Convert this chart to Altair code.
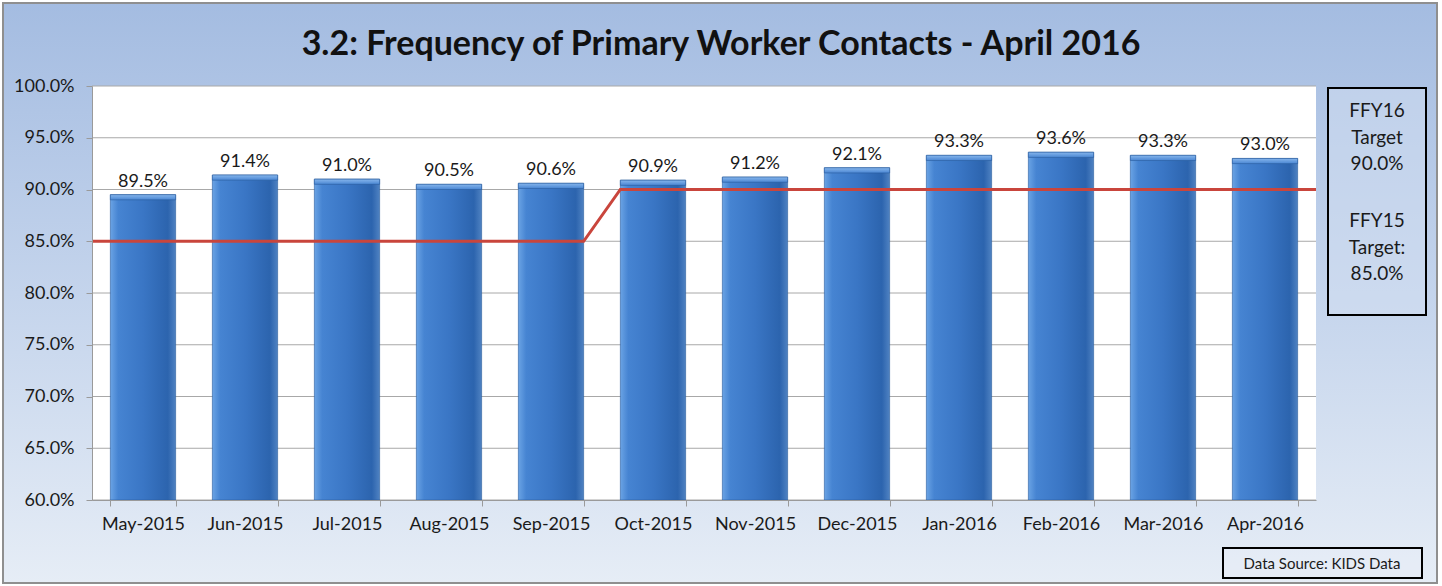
import altair as alt
import pandas as pd

months = ["May-2015", "Jun-2015", "Jul-2015", "Aug-2015", "Sep-2015", "Oct-2015",
          "Nov-2015", "Dec-2015", "Jan-2016", "Feb-2016", "Mar-2016", "Apr-2016"]
values = [89.5, 91.4, 91.0, 90.5, 90.6, 90.9, 91.2, 92.1, 93.3, 93.6, 93.3, 93.0]
targets = [85, 85, 85, 85, 85, 90, 90, 90, 90, 90, 90, 90]
y_ticks = [60, 65, 70, 75, 80, 85, 90, 95, 100]
title_text = "3.2: Frequency of Primary Worker Contacts - April 2016"
legend_fy16 = "FFY16\nTarget\n90.0%"
legend_fy15 = "FFY15\nTarget:\n85.0%"
source_text = "Data Source: KIDS Data"

W, H = 1224, 414
FONT = "Lato"
TXT = "#1a1a1a"
HALF = 0.32

df = pd.DataFrame({"month": months, "value": values,
                   "label": [f"{v:.1f}%" for v in values]})

n = len(months)
rows = []
for i, t in enumerate(targets):
    left = -0.5 if i == 0 else i - HALF
    right = n - 0.5 if i == n - 1 else i + HALF
    rows.append({"pos": left, "target": t})
    rows.append({"pos": right, "target": t})
line_df = pd.DataFrame(rows)

one = alt.Data(values=[{"k": 1}])

bg_grad = {"gradient": "linear", "x1": 0, "y1": 0, "x2": 0, "y2": 1,
           "stops": [{"offset": 0, "color": "#a4bce1"},
                     {"offset": 0.5, "color": "#c4d4ec"},
                     {"offset": 1, "color": "#e6edf6"}]}
bar_grad = {"gradient": "linear", "x1": 0, "y1": 0, "x2": 1, "y2": 0,
            "stops": [{"offset": 0, "color": "#6aa3e4"},
                      {"offset": 0.12, "color": "#4684d2"},
                      {"offset": 0.5, "color": "#3a76c5"},
                      {"offset": 0.88, "color": "#2c64ae"},
                      {"offset": 1, "color": "#4f82c2"}]}
cap_grad = {"gradient": "linear", "x1": 0, "y1": 0, "x2": 0, "y2": 1,
            "stops": [{"offset": 0, "color": "#86b6ec"},
                      {"offset": 1, "color": "#4a86d3"}]}

background = alt.Chart(one).mark_rect(fill=bg_grad, stroke="#8f8f8f", strokeWidth=2).encode(
    x=alt.value(-89), x2=alt.value(W + 121), y=alt.value(-83), y2=alt.value(H + 83))
plot_bg = alt.Chart(one).mark_rect(fill="white").encode(
    x=alt.value(0), x2=alt.value(W), y=alt.value(0), y2=alt.value(H))

yscale = alt.Scale(domain=[60, 100], nice=False, zero=False)
xscale = alt.Scale(domain=months, paddingInner=0.36, paddingOuter=0.18)

grid = alt.Chart(pd.DataFrame({"v": y_ticks})).mark_rule(color="#a8a8a8", strokeWidth=1).encode(
    y=alt.Y("v:Q", scale=yscale,
            axis=alt.Axis(values=y_ticks, labelExpr="format(datum.value, '.1f') + '%'",
                          title=None, grid=False, tickSize=6, labelFontSize=18,
                          labelFont=FONT, labelColor=TXT, labelPadding=12,
                          domainColor="#9a9a9a", tickColor="#9a9a9a", zindex=1)))

bars = alt.Chart(df).mark_bar(fill=bar_grad, stroke="#2a5c9e", strokeWidth=0.6).encode(
    x=alt.X("month:N", sort=months, scale=xscale,
            axis=alt.Axis(title=None, labelAngle=0, tickBand="extent", labelFontSize=18,
                          labelFont=FONT, labelColor=TXT, labelPadding=9, tickSize=6,
                          domainColor="#9a9a9a", tickColor="#9a9a9a", zindex=1)),
    y=alt.Y("value:Q", scale=yscale),
    y2=alt.datum(60))

caps = alt.Chart(df).mark_bar(fill=cap_grad, stroke="#2a5c9e", strokeWidth=0.6).transform_calculate(
    capbase="datum.value - 0.5").encode(
    x=alt.X("month:N", sort=months), y=alt.Y("value:Q", scale=yscale), y2="capbase:Q")

labels = alt.Chart(df).mark_text(baseline="alphabetic", dy=-8, fontSize=18, font=FONT,
                                 color=TXT).encode(
    x=alt.X("month:N", sort=months), y=alt.Y("value:Q", scale=yscale), text="label:N")

bar_group = alt.layer(bars, caps, labels)

target_line = alt.Chart(line_df).mark_line(color="#c9453c", strokeWidth=3).encode(
    x=alt.X("pos:Q", scale=alt.Scale(domain=[-0.5, n - 0.5], nice=False, zero=False), axis=None),
    y=alt.Y("target:Q", scale=yscale))

title = alt.Chart(one).mark_text(text=title_text, fontSize=34, fontWeight="bold", font=FONT,
                                 color="#111111", baseline="alphabetic", align="center").encode(
    x=alt.value(629), y=alt.value(-31))

legend_box = alt.Chart(one).mark_rect(fill="#d3dff1", fillOpacity=0.5, stroke="black",
                                      strokeWidth=2).encode(
    x=alt.value(1236), x2=alt.value(1334), y=alt.value(2), y2=alt.value(229))
legend_a = alt.Chart(one).mark_text(text=legend_fy16, lineBreak="\n", lineHeight=26.5,
                                    fontSize=19, font=FONT, color=TXT, align="center",
                                    baseline="alphabetic").encode(
    x=alt.value(1285), y=alt.value(31))
legend_b = alt.Chart(one).mark_text(text=legend_fy15, lineBreak="\n", lineHeight=26.5,
                                    fontSize=19, font=FONT, color=TXT, align="center",
                                    baseline="alphabetic").encode(
    x=alt.value(1285), y=alt.value(141))

src_box = alt.Chart(one).mark_rect(fill="#e8eef7", fillOpacity=0.4, stroke="black",
                                   strokeWidth=2).encode(
    x=alt.value(1131), x2=alt.value(1330), y=alt.value(462), y2=alt.value(492))
src_txt = alt.Chart(one).mark_text(text=source_text, fontSize=15, font=FONT, color=TXT,
                                   align="center", baseline="alphabetic").encode(
    x=alt.value(1230), y=alt.value(483))

chart = alt.layer(
    background, plot_bg, grid, bar_group, target_line, title,
    legend_box, legend_a, legend_b, src_box, src_txt
).resolve_scale(x="independent").properties(
    width=W, height=H,
    autosize=alt.AutoSizeParams(type="none"),
    padding={"left": 92, "top": 86, "right": 126, "bottom": 86},
    background="#ffffff"
).configure_view(stroke=None)

chart.save("out.html", embed_options={"renderer": "svg", "actions": False})
